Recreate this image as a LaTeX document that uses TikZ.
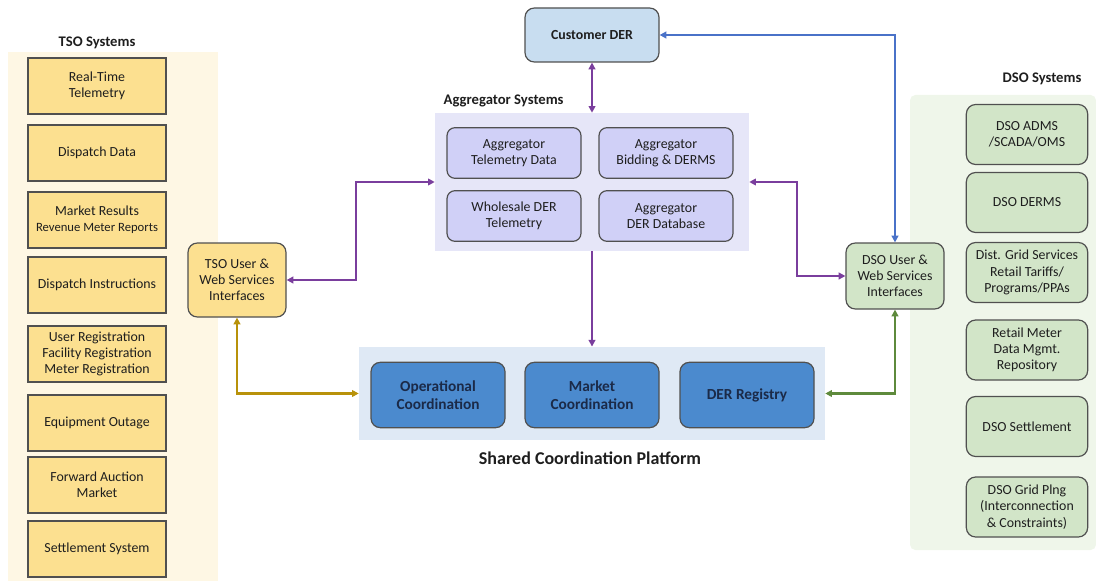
\documentclass[tikz,border=0pt]{standalone}
\usepackage{fontspec}
\setmainfont{Carlito}
\usetikzlibrary{arrows.meta,positioning}

\definecolor{boxline}{HTML}{505050}
\definecolor{txt}{HTML}{1E1E1E}
\definecolor{tsofill}{HTML}{FCE090}
\definecolor{tsobg}{HTML}{FEF7E4}
\definecolor{aggbg}{HTML}{E6E6F8}
\definecolor{aggfill}{HTML}{D0D0F7}
\definecolor{custfill}{HTML}{C8DDF0}
\definecolor{platbg}{HTML}{DFE9F5}
\definecolor{platfill}{HTML}{4B8ACE}
\definecolor{plattxt}{HTML}{1B2A48}
\definecolor{dsofill}{HTML}{D2E5C8}
\definecolor{dsobg}{HTML}{EFF6EA}
\definecolor{purplelink}{HTML}{7A3E9D}
\definecolor{bluelink}{HTML}{4A72C8}
\definecolor{goldlink}{HTML}{B8920A}
\definecolor{greenlink}{HTML}{5E8A3C}

\tikzset{
  box/.style={draw=boxline, line width=0.9pt, align=center, inner sep=1pt, text=txt},
  tsobox/.style={box, fill=tsofill, minimum width=103.5pt, minimum height=42pt},
  aggbox/.style={box, fill=aggfill, rounded corners=6pt, minimum width=100.5pt, minimum height=38pt},
  platbox/.style={box, fill=platfill, rounded corners=7pt, minimum width=100.5pt, minimum height=49pt,
    text=plattxt, font=\fontsize{11.5}{13.5}\selectfont\bfseries},
  dsobox/.style={box, fill=dsofill, rounded corners=7pt, minimum width=91pt, minimum height=45pt},
  uibox/.style={box, rounded corners=7pt, minimum width=73.5pt},
  title/.style={font=\fontsize{11}{13}\selectfont\bfseries, text=txt},
  link/.style={line width=1.6pt, {Triangle[length=5pt,width=5pt]}-{Triangle[length=5pt,width=5pt]}},
}

\begin{document}
\begin{tikzpicture}[x=0.75pt,y=-0.75pt, font=\fontsize{10.4}{12.2}\selectfont]
\useasboundingbox (0,0) rectangle (1096,581);

% backgrounds of the two system columns
\fill[tsobg] (8,52) rectangle (218,581);
\fill[dsobg, rounded corners=4pt] (910,95) rectangle (1096,550);

% TSO side
\node[title] (tsotitle) at (97,43) {TSO Systems};
\node[tsobox] (rtt) at (97,86) {Real-Time\\Telemetry};
\node[tsobox] (dd) at (97,153) {Dispatch Data};
\node[tsobox] (mr) at (97,220) {Market Results\\{\fontsize{9.5}{11}\selectfont Revenue Meter Reports}};
\node[tsobox] (di) at (97,285) {Dispatch Instructions};
\node[tsobox] (reg) at (97,354) {User Registration\\Facility Registration\\Meter Registration};
\node[tsobox] (eo) at (97,423) {Equipment Outage};
\node[tsobox] (fam) at (97,485) {Forward Auction\\Market};
\node[tsobox] (ss) at (97,549) {Settlement System};
\node[uibox, fill=tsofill, minimum height=55.5pt] (tsoui) at (237,280) {TSO User \&\\Web Services\\Interfaces};

% customer and aggregator
\node[box, fill=custfill, rounded corners=7pt, minimum width=100.5pt, minimum height=40.5pt,
  font=\fontsize{10.4}{12}\selectfont\bfseries] (cust) at (592,35) {Customer DER};
\node[title, anchor=west] (aggtitle) at (439,101) {Aggregator Systems};
\node[fill=aggbg, minimum width=235.5pt, minimum height=103.5pt, inner sep=0pt] (agg) at (592,182) {};
\node[aggbox] (atd) at (514,153) {Aggregator\\Telemetry Data};
\node[aggbox] (abd) at (666,153) {Aggregator\\Bidding \& DERMS};
\node[aggbox] (wdt) at (514,216) {Wholesale DER\\Telemetry};
\node[aggbox] (adb) at (666,216) {Aggregator\\DER Database};

% shared platform
\node[fill=platbg, minimum width=349.5pt, minimum height=70pt, inner sep=0pt] (plat) at (592,393.5) {};
\node[platbox] (opc) at (438,395) {Operational\\Coordination};
\node[platbox] (mkc) at (592,395) {Market\\Coordination};
\node[platbox] (derr) at (747,395) {DER Registry};
\node[font=\fontsize{13.5}{16}\selectfont\bfseries, text=txt] (plattitle) at (590,458) {Shared Coordination Platform};

% DSO side
\node[title] (dsotitle) at (1042,79) {DSO Systems};
\node[dsobox] (adms) at (1027,134.5) {DSO ADMS\\/SCADA/OMS};
\node[dsobox] (derms) at (1027,202.5) {DSO DERMS};
\node[dsobox] (dgs) at (1027,272.5) {Dist. Grid Services\\Retail Tariffs/\\Programs/PPAs};
\node[dsobox] (rmd) at (1027,350) {Retail Meter\\Data Mgmt.\\Repository};
\node[dsobox] (dsets) at (1027,426.5) {DSO Settlement};
\node[dsobox] (dgp) at (1027,507) {DSO Grid Plng\\(Interconnection\\\& Constraints)};
\node[uibox, fill=dsofill, minimum height=49.5pt] (dsoui) at (895,276) {DSO User \&\\Web Services\\Interfaces};

% connectors
\draw[link, purplelink] (cust.south) -- (agg.north);
\draw[link, purplelink] (tsoui.east) -- ++(69,0) |- (agg.west);
\draw[link, purplelink] (agg.east) -- ++(48,0) |- (dsoui.west);
\draw[line width=1.6pt, purplelink, -{Triangle[length=5pt,width=5pt]}] (agg.south) -- (plat.north);
\draw[link, bluelink] (dsoui.north) |- (cust.east);
\draw[link, goldlink] (tsoui.south) |- (plat.west);
\draw[link, greenlink] (dsoui.south) |- (plat.east);
\end{tikzpicture}
\end{document}
